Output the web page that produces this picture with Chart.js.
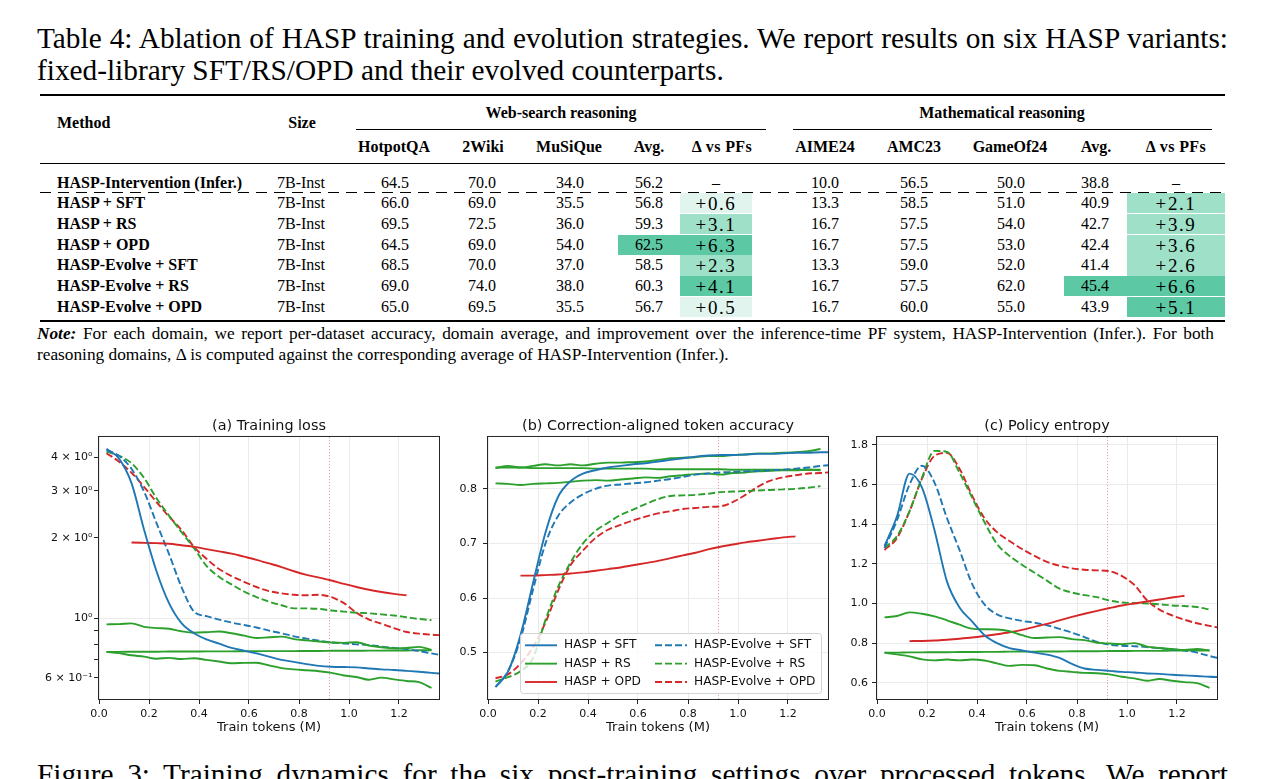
<!DOCTYPE html>
<html>
<head>
<meta charset="utf-8">
<title>HASP ablation and training dynamics</title>
<script src="https://cdn.jsdelivr.net/npm/chart.js@4.4.1/dist/chart.umd.min.js"></script>
<style>
  body { margin: 0; width: 1266px; height: 779px; overflow: hidden; background: #fff; position: relative;
         font-family: "Liberation Serif", "Times New Roman", serif; color: #000; }
  .t { position: absolute; white-space: nowrap; line-height: 1; }
  .line { position: absolute; left: 37px; line-height: 1; text-align: justify; text-align-last: justify; }
  .cap { font-size: 29.3px; width: 1191px; word-spacing: -1px; }
  .note { font-size: 17.3px; width: 1177px; word-spacing: -0.6px; }
  .box { position: absolute; }
  canvas { position: absolute; }
</style>
</head>
<body>
<div class="line cap" style="top:24px">Table 4: Ablation of HASP training and evolution strategies. We report results on six HASP variants:</div>
<div class="line cap" style="top:56px; text-align-last:left; word-spacing:0">fixed-library SFT/RS/OPD and their evolved counterparts.</div>

<div class="line note" style="top:324.5px"><b><i>Note:</i></b> For each domain, we report per-dataset accuracy, domain average, and improvement over the inference-time PF system, HASP-Intervention (Infer.). For both</div>
<div class="line note" style="top:345.5px; text-align-last:left; word-spacing:0">reasoning domains, &Delta; is computed against the corresponding average of HASP-Intervention (Infer.).</div>

<canvas id="lossChart" width="420" height="330" style="left:30px;top:410px"></canvas>
<canvas id="accChart" width="400" height="330" style="left:440px;top:410px"></canvas>
<canvas id="entChart" width="400" height="330" style="left:830px;top:410px"></canvas>

<div class="line cap" style="top:760px">Figure 3: Training dynamics for the six post-training settings over processed tokens. We report</div>

<script>
// ---- table data ----
const methods = ['HASP-Intervention (Infer.)', 'HASP + SFT', 'HASP + RS', 'HASP + OPD',
                 'HASP-Evolve + SFT', 'HASP-Evolve + RS', 'HASP-Evolve + OPD'];
const sizes = ['7B-Inst', '7B-Inst', '7B-Inst', '7B-Inst', '7B-Inst', '7B-Inst', '7B-Inst'];
const subHeaders = ['HotpotQA', '2Wiki', 'MuSiQue', 'Avg.', '\u0394 vs PFs',
                    'AIME24', 'AMC23', 'GameOf24', 'Avg.', '\u0394 vs PFs'];
const hotpotqa = [64.5, 66.0, 69.5, 64.5, 68.5, 69.0, 65.0];
const twoWiki  = [70.0, 69.0, 72.5, 69.0, 70.0, 74.0, 69.5];
const musique  = [34.0, 35.5, 36.0, 54.0, 37.0, 38.0, 35.5];
const webAvg   = [56.2, 56.8, 59.3, 62.5, 58.5, 60.3, 56.7];
const webDelta = [null, 0.6, 3.1, 6.3, 2.3, 4.1, 0.5];
const aime24   = [10.0, 13.3, 16.7, 16.7, 13.3, 16.7, 16.7];
const amc23    = [56.5, 58.5, 57.5, 57.5, 59.0, 57.5, 60.0];
const gameOf24 = [50.0, 51.0, 54.0, 53.0, 52.0, 62.0, 55.0];
const mathAvg  = [38.8, 40.9, 42.7, 42.4, 41.4, 45.4, 43.9];
const mathDelta = [null, 2.1, 3.9, 3.6, 2.6, 6.6, 5.1];

// ---- training curves (x in M tokens) ----
const tokens = [0.03, 0.08, 0.13, 0.18, 0.23, 0.28, 0.33, 0.38, 0.43, 0.48, 0.53, 0.58, 0.63, 0.68,
                0.73, 0.78, 0.83, 0.88, 0.93, 0.98, 1.03, 1.08, 1.13, 1.18, 1.23, 1.28, 1.33, 1.38];
const evolveStart = 0.92;
const xTicks = [0, 0.2, 0.4, 0.6, 0.8, 1.0, 1.2];

const lossTicks = [0.6, 0.7, 0.8, 0.9, 1, 2, 3, 4];
const lossTickLabels = ['6 \u00d7 10\u207b\u00b9', '', '', '', '10\u2070', '2 \u00d7 10\u2070', '3 \u00d7 10\u2070', '4 \u00d7 10\u2070'];
const accTicks = [0.5, 0.6, 0.7, 0.8];
const entTicks = [0.6, 0.8, 1.0, 1.2, 1.4, 1.6, 1.8];

const lossSft = [4.30, 3.95, 3.20, 2.15, 1.50, 1.14, 0.96, 0.88, 0.835, 0.805, 0.776, 0.758, 0.74, 0.72,
                 0.70, 0.688, 0.675, 0.665, 0.66, 0.658, 0.656, 0.65, 0.645, 0.642, 0.637, 0.632, 0.626, 0.62];
const lossRs = [0.95, 0.952, 0.958, 0.93, 0.92, 0.915, 0.895, 0.885, 0.888, 0.893, 0.88, 0.862, 0.845, 0.85,
                0.855, 0.837, 0.828, 0.82, 0.813, 0.81, 0.815, 0.792, 0.78, 0.773, 0.775, 0.783, 0.762, null];
const lossRsFlat = [0.750, 0.750, 0.751, 0.751, 0.751, 0.752, 0.752, 0.752, 0.753, 0.753, 0.753, 0.754, 0.754, 0.755,
                    0.755, 0.755, 0.756, 0.756, 0.757, 0.757, 0.757, 0.758, 0.758, 0.759, 0.759, 0.760, 0.760, null];
const lossRsLow = [0.75, 0.742, 0.728, 0.72, 0.707, 0.712, 0.705, 0.71, 0.70, 0.69, 0.68, 0.682, 0.683, 0.668,
                   0.652, 0.645, 0.64, 0.635, 0.626, 0.612, 0.604, 0.59, 0.601, 0.592, 0.584, 0.578, 0.55, null];
const lossOpd = [null, null, 1.92, 1.915, 1.91, 1.90, 1.875, 1.85, 1.815, 1.78, 1.745, 1.70, 1.655, 1.605,
                 1.555, 1.50, 1.455, 1.42, 1.385, 1.345, 1.31, 1.28, 1.255, 1.235, 1.22, null, null, null];
const lossEvoSft = [4.25, 4.05, 3.62, 2.98, 2.27, 1.74, 1.31, 1.06, 1.02, 0.99, 0.965, 0.945, 0.925, 0.9,
                    0.88, 0.857, 0.84, 0.825, 0.813, 0.806, 0.80, 0.795, 0.785, 0.775, 0.768, 0.755, 0.74, 0.725];
const lossEvoRs = [4.2, 4.05, 3.8, 3.35, 2.81, 2.42, 2.1, 1.83, 1.57, 1.43, 1.34, 1.26, 1.2, 1.155,
                   1.12, 1.09, 1.09, 1.085, 1.07, 1.06, 1.05, 1.045, 1.035, 1.025, 1.01, 0.995, 0.985, null];
const lossEvoOpd = [4.14, 3.85, 3.5, 3.1, 2.72, 2.40, 2.14, 1.85, 1.67, 1.53, 1.44, 1.37, 1.31, 1.265,
                    1.24, 1.225, 1.22, 1.225, 1.2, 1.14, 1.05, 0.99, 0.955, 0.92, 0.89, 0.877, 0.869, 0.864];

const accSft = [0.437, 0.465, 0.532, 0.627, 0.72, 0.785, 0.814, 0.828, 0.834, 0.839, 0.842, 0.845, 0.847, 0.85,
                0.853, 0.856, 0.859, 0.861, 0.862, 0.862, 0.863, 0.864, 0.864, 0.865, 0.866, 0.866, 0.867, 0.867];
const accRs = [0.838, 0.842, 0.839, 0.842, 0.845, 0.843, 0.845, 0.843, 0.846, 0.848, 0.848, 0.849, 0.85, 0.853,
               0.856, 0.857, 0.858, 0.86, 0.86, 0.862, 0.863, 0.865, 0.865, 0.866, 0.867, 0.869, 0.873, null];
const accRsFlat = [0.839, 0.839, 0.839, 0.838, 0.838, 0.838, 0.838, 0.838, 0.837, 0.837, 0.837, 0.837, 0.837, 0.836,
                   0.836, 0.836, 0.836, 0.836, 0.836, 0.835, 0.835, 0.835, 0.835, 0.835, 0.835, 0.835, 0.835, null];
const accRsLow = [0.81, 0.809, 0.807, 0.809, 0.81, 0.811, 0.813, 0.815, 0.816, 0.815, 0.817, 0.819, 0.821, 0.82,
                  0.823, 0.825, 0.827, 0.828, 0.826, 0.829, 0.83, 0.832, 0.833, 0.834, 0.834, 0.835, 0.834, null];
const accOpd = [null, null, 0.641, 0.641, 0.642, 0.643, 0.645, 0.647, 0.65, 0.653, 0.656, 0.66, 0.664, 0.668,
                0.673, 0.678, 0.683, 0.689, 0.694, 0.698, 0.702, 0.705, 0.708, 0.711, 0.713, null, null, null];
const accEvoSft = [0.437, 0.466, 0.525, 0.615, 0.70, 0.75, 0.775, 0.79, 0.80, 0.806, 0.808, 0.81, 0.812, 0.815,
                   0.818, 0.822, 0.826, 0.828, 0.83, 0.831, 0.832, 0.833, 0.834, 0.835, 0.837, 0.839, 0.842, 0.844];
const accEvoRs = [0.447, 0.455, 0.466, 0.49, 0.56, 0.62, 0.665, 0.70, 0.723, 0.738, 0.752, 0.762, 0.772, 0.781,
                  0.787, 0.788, 0.789, 0.791, 0.794, 0.795, 0.796, 0.797, 0.798, 0.799, 0.80, 0.802, 0.805, null];
const accEvoOpd = [0.453, 0.46, 0.48, 0.51, 0.555, 0.613, 0.66, 0.687, 0.71, 0.725, 0.734, 0.742, 0.749, 0.755,
                   0.759, 0.763, 0.765, 0.767, 0.768, 0.776, 0.789, 0.804, 0.815, 0.821, 0.825, 0.828, 0.829, 0.831];

const entSft = [1.29, 1.44, 1.655, 1.585, 1.37, 1.11, 0.98, 0.91, 0.84, 0.80, 0.775, 0.763, 0.752, 0.742,
                0.725, 0.695, 0.672, 0.665, 0.66, 0.655, 0.652, 0.647, 0.645, 0.64, 0.637, 0.634, 0.63, 0.628];
const entRs = [0.93, 0.937, 0.955, 0.948, 0.935, 0.915, 0.893, 0.873, 0.87, 0.869, 0.86, 0.84, 0.826, 0.828,
               0.83, 0.82, 0.815, 0.802, 0.798, 0.795, 0.8, 0.782, 0.775, 0.77, 0.765, 0.77, 0.763, null];
const entRsFlat = [0.752, 0.752, 0.753, 0.753, 0.754, 0.754, 0.755, 0.755, 0.756, 0.756, 0.757, 0.757, 0.757, 0.758,
                   0.758, 0.759, 0.759, 0.759, 0.76, 0.76, 0.761, 0.761, 0.761, 0.762, 0.762, 0.763, 0.763, null];
const entRsLow = [0.752, 0.743, 0.733, 0.718, 0.713, 0.717, 0.713, 0.717, 0.712, 0.698, 0.685, 0.69, 0.688, 0.672,
                  0.66, 0.655, 0.65, 0.648, 0.642, 0.63, 0.622, 0.61, 0.619, 0.61, 0.603, 0.598, 0.574, null];
const entOpd = [null, null, 0.81, 0.811, 0.813, 0.817, 0.822, 0.828, 0.836, 0.845, 0.855, 0.867, 0.882, 0.897,
                0.915, 0.932, 0.948, 0.963, 0.977, 0.99, 1.0, 1.01, 1.02, 1.03, 1.039, null, null, null];
const entEvoSft = [1.28, 1.42, 1.6, 1.695, 1.61, 1.43, 1.27, 1.10, 0.995, 0.945, 0.925, 0.912, 0.903, 0.89,
                   0.872, 0.853, 0.83, 0.806, 0.792, 0.787, 0.784, 0.78, 0.774, 0.768, 0.763, 0.752, 0.735, 0.72];
const entEvoRs = [1.28, 1.34, 1.465, 1.635, 1.77, 1.765, 1.66, 1.535, 1.41, 1.30, 1.24, 1.195, 1.155, 1.115,
                  1.075, 1.055, 1.042, 1.032, 1.015, 1.005, 1.002, 1.0, 0.996, 0.99, 0.987, 0.982, 0.97, null];
const entEvoOpd = [1.27, 1.33, 1.465, 1.63, 1.745, 1.76, 1.68, 1.545, 1.43, 1.36, 1.315, 1.275, 1.24, 1.21,
                   1.19, 1.177, 1.17, 1.167, 1.163, 1.138, 1.093, 1.016, 0.969, 0.94, 0.918, 0.9, 0.887, 0.875];

// ---- table drawing ----
const colX = [395, 482, 570, 649, 716, 825, 914, 1011, 1095, 1176];
const headX = [394, 483, 569, 649, 722, 825, 914, 1010, 1096, 1176];
const rowY = methods.map((m, i) => 182.6 + 20.7 * i);
const shade = { light: '#e1f5ee', mid: '#9fe0c9', dark: '#5cc9a4' };

function put(text, x, y, o = {}) {
  const el = document.createElement('div');
  el.className = 't';
  el.textContent = text;
  el.style.left = x + 'px';
  el.style.top = y + 'px';
  el.style.fontSize = (o.size || 16) + 'px';
  if (o.bold) el.style.fontWeight = 'bold';
  if (o.spacing) el.style.letterSpacing = o.spacing + 'px';
  el.style.transform = o.left ? 'translateY(-50%)' : 'translate(-50%,-50%)';
  document.body.appendChild(el);
}

function rect(x, y, w, h, bg) {
  const el = document.createElement('div');
  el.className = 'box';
  el.style.cssText += `left:${x}px;top:${y}px;width:${w}px;height:${h}px;background:${bg}`;
  document.body.appendChild(el);
}

function deltaShade(v) {
  return v < 1 ? shade.light : v < 4 ? shade.mid : shade.dark;
}

function drawTable() {
  rect(40, 94, 1185, 2, '#000');
  rect(356, 129, 410, 1, '#000');
  rect(793, 129, 419, 1, '#000');
  rect(40, 162.5, 1185, 1.2, '#000');
  rect(40, 192, 1185, 1, 'repeating-linear-gradient(to right,#000 0 11px,transparent 11px 18px)');
  rect(40, 320, 1185, 2, '#000');

  put('Method', 57, 123, { bold: true, left: true });
  put('Size', 302, 123, { bold: true });
  put('Web-search reasoning', 561, 113, { bold: true });
  put('Mathematical reasoning', 1002, 113, { bold: true });
  subHeaders.forEach((h, i) => put(h, headX[i], 147, { bold: true, spacing: h.startsWith('\u0394') ? 0.4 : 0 }));

  const bestWeb = Math.max(...webAvg), bestMath = Math.max(...mathAvg);
  methods.forEach((m, r) => {
    const y = rowY[r];
    if (webDelta[r] !== null) rect(680, y - 10, 72, 20.2, deltaShade(webDelta[r]));
    if (mathDelta[r] !== null) rect(1127, y - 10, 98, 20.2, deltaShade(mathDelta[r]));
    if (webAvg[r] === bestWeb) rect(618, y - 10, 62, 20.2, shade.dark);
    if (mathAvg[r] === bestMath) rect(1064, y - 10, 63, 20.2, shade.dark);

    put(m, 57, y, { bold: true, left: true });
    put(sizes[r], 301, y);
    const cells = [hotpotqa[r], twoWiki[r], musique[r], webAvg[r], webDelta[r],
                   aime24[r], amc23[r], gameOf24[r], mathAvg[r], mathDelta[r]];
    cells.forEach((v, c) => {
      const isDelta = c === 4 || c === 9;
      if (isDelta) {
        put(v === null ? '\u2013' : '+' + v.toFixed(1), colX[c], y, v === null ? {} : { size: 19, spacing: 1.6 });
      } else {
        put(v.toFixed(1), colX[c], y);
      }
    });
  });
}
drawTable();

// ---- charts ----
Chart.defaults.font.family = '"DejaVu Sans", sans-serif';
Chart.defaults.color = '#111';

const blue = '#1f77b4', green = '#2ca02c', red = '#d62728';
const gridColor = '#ebebeb';

function points(values) {
  return tokens.map((t, i) => ({ x: t, y: values[i] })).filter(p => p.y !== null);
}

function series(label, values, color, dashed, inLegend = true) {
  return {
    label, data: points(values), borderColor: color, borderWidth: 1.9,
    borderDash: dashed ? [7, 3] : [], pointRadius: 0, cubicInterpolationMode: 'monotone',
    fill: false, inLegend
  };
}

function drawLegend(chart) {
  const { ctx, chartArea: a } = chart;
  const items = chart.data.datasets.filter(d => d.inLegend);
  const x0 = a.right - 308, y0 = a.bottom - 66;
  ctx.fillStyle = 'rgba(255,255,255,0.8)';
  ctx.strokeStyle = '#d3d3d3';
  ctx.lineWidth = 1;
  ctx.beginPath();
  ctx.roundRect(x0 + 0.5, y0 + 0.5, 301, 60, 3);
  ctx.fill();
  ctx.stroke();
  ctx.font = '12.2px "DejaVu Sans"';
  ctx.textBaseline = 'middle';
  items.forEach((d, i) => {
    const lx = x0 + 5 + Math.floor(i / 3) * 130, ly = y0 + 12.3 + (i % 3) * 18.35;
    ctx.strokeStyle = d.borderColor;
    ctx.lineWidth = d.borderWidth;
    ctx.setLineDash(d.borderDash);
    ctx.beginPath();
    ctx.moveTo(lx, ly);
    ctx.lineTo(lx + 32, ly);
    ctx.stroke();
    ctx.setLineDash([]);
    ctx.fillStyle = '#111';
    ctx.fillText(d.label, lx + 39, ly);
  });
}

const framePlugin = {
  id: 'frame',
  beforeDatasetsDraw(chart) {
    const { ctx, chartArea: a, scales } = chart;
    const px = Math.round(scales.x.getPixelForValue(evolveStart)) + 0.5;
    ctx.save();
    ctx.strokeStyle = 'rgba(214,39,40,0.45)';
    ctx.lineWidth = 1;
    ctx.setLineDash([1.2, 1.8]);
    ctx.beginPath();
    ctx.moveTo(px, a.top);
    ctx.lineTo(px, a.bottom);
    ctx.stroke();
    ctx.restore();
  },
  afterDraw(chart, args, opts) {
    const { ctx, chartArea: a } = chart;
    ctx.save();
    if (opts.legend) drawLegend(chart);
    ctx.setLineDash([]);
    ctx.strokeStyle = '#262626';
    ctx.lineWidth = 1;
    ctx.strokeRect(a.left - 0.5, a.top - 0.5, a.right - a.left + 1, a.bottom - a.top + 1);
    ctx.restore();
  }
};

function makeChart(id, title, datasets, yScale, yWidth, rightPad, legend) {
  return new Chart(document.getElementById(id), {
    type: 'line',
    data: { datasets },
    plugins: [framePlugin],
    options: {
      responsive: false,
      animation: false,
      events: [],
      layout: { padding: { left: 0, right: rightPad, top: 0, bottom: 5 } },
      plugins: {
        legend: { display: false },
        tooltip: { enabled: false },
        title: { display: true, text: title, fullSize: false, color: '#111',
                 font: { size: 14.4, weight: 'normal' }, padding: { top: 7.5, bottom: 2.2 } },
        frame: { legend }
      },
      scales: {
        x: {
          type: 'linear', min: 0, max: 1.36,
          afterBuildTicks: s => { s.ticks = xTicks.map(v => ({ value: v })); },
          ticks: { callback: v => v.toFixed(1), padding: 3.5, font: { size: 11 }, maxRotation: 0, autoSkip: false },
          grid: { color: gridColor, tickColor: '#222', tickLength: 5 },
          border: { display: false },
          title: { display: true, text: 'Train tokens (M)', font: { size: 13 }, padding: 0, color: '#111' },
          afterFit: s => { s.height = 36; }
        },
        y: Object.assign({ border: { display: false }, afterFit: s => { s.width = yWidth; } }, yScale)
      }
    }
  });
}

function linearY(min, max, ticks, pad) {
  return {
    type: 'linear', min, max,
    afterBuildTicks: s => { s.ticks = ticks.map(v => ({ value: v })); },
    ticks: { callback: v => v.toFixed(1), padding: pad, font: { size: 11 }, autoSkip: false },
    grid: { color: gridColor, tickColor: '#222', tickLength: 5 }
  };
}

makeChart('lossChart', '(a) Training loss', [
  series('HASP + SFT', lossSft, blue, false),
  series('HASP + RS', lossRs, green, false),
  series('HASP + OPD', lossOpd, red, false),
  series('HASP-Evolve + SFT', lossEvoSft, blue, true),
  series('HASP-Evolve + RS', lossEvoRs, green, true),
  series('HASP-Evolve + OPD', lossEvoOpd, red, true),
  series('HASP + RS (flat)', lossRsFlat, green, false, false),
  series('HASP + RS (low)', lossRsLow, green, false, false)
], {
  type: 'logarithmic', min: 0.5, max: 4.76,
  afterBuildTicks: s => { s.ticks = lossTicks.map(v => ({ value: v })); },
  ticks: { callback: v => lossTickLabels[lossTicks.indexOf(v)], padding: 1.5, font: { size: 11 }, autoSkip: false },
  grid: { color: c => (c.tick && c.tick.value === 1 ? gridColor : 'rgba(0,0,0,0)'), tickColor: '#222', tickLength: 5 }
}, 69, 11, false);

makeChart('accChart', '(b) Correction-aligned token accuracy', [
  series('HASP + SFT', accSft, blue, false),
  series('HASP + RS', accRs, green, false),
  series('HASP + OPD', accOpd, red, false),
  series('HASP-Evolve + SFT', accEvoSft, blue, true),
  series('HASP-Evolve + RS', accEvoRs, green, true),
  series('HASP-Evolve + OPD', accEvoOpd, red, true),
  series('HASP + RS (flat)', accRsFlat, green, false, false),
  series('HASP + RS (low)', accRsLow, green, false, false)
], linearY(0.415, 0.895, accTicks, 6), 48, 12, true);

makeChart('entChart', '(c) Policy entropy', [
  series('HASP + SFT', entSft, blue, false),
  series('HASP + RS', entRs, green, false),
  series('HASP + OPD', entOpd, red, false),
  series('HASP-Evolve + SFT', entEvoSft, blue, true),
  series('HASP-Evolve + RS', entEvoRs, green, true),
  series('HASP-Evolve + OPD', entEvoOpd, red, true),
  series('HASP + RS (flat)', entRsFlat, green, false, false),
  series('HASP + RS (low)', entRsLow, green, false, false)
], linearY(0.518, 1.84, entTicks, 4), 47, 13, false);
</script>
</body>
</html>
